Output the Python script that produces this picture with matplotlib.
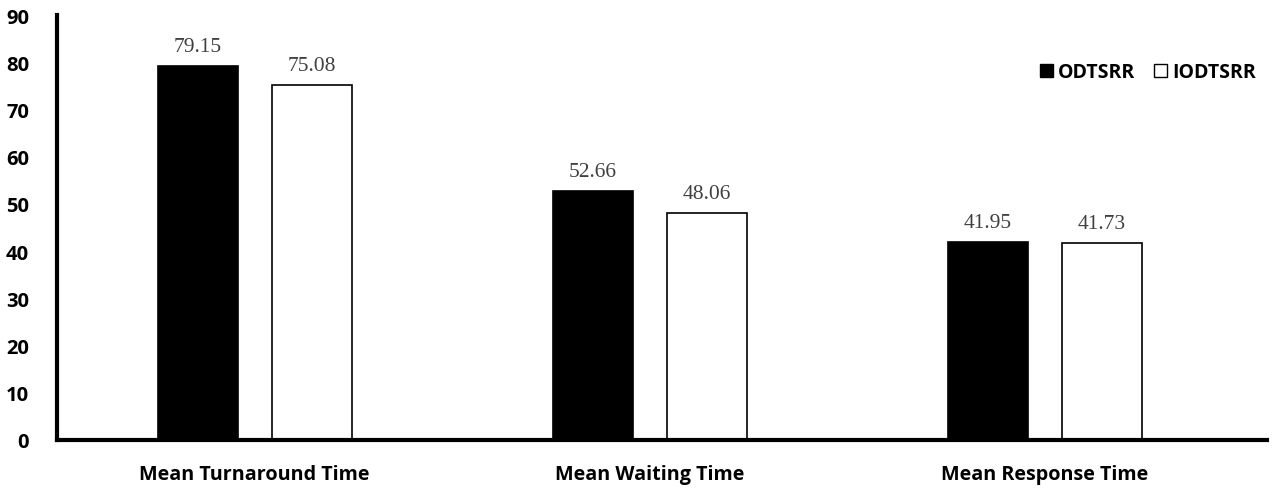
import matplotlib
matplotlib.use("Agg")
import matplotlib.pyplot as plt
import numpy as np
from matplotlib.patches import Patch

categories = ["Mean Turnaround Time", "Mean Waiting Time", "Mean Response Time"]
series_names = ["ODTSRR", "IODTSRR"]
odtsrr = [79.15, 52.66, 41.95]
iodtsrr = [75.08, 48.06, 41.73]
y_ticks = [0, 10, 20, 30, 40, 50, 60, 70, 80, 90]

fig = plt.figure(figsize=(12.77, 4.89), dpi=100)
ax = fig.add_axes([57 / 1277, 48 / 489, (1267 - 57) / 1277, (441 - 16) / 489])

x = np.arange(len(categories))
w = 0.2025
off = 0.1443
b1 = ax.bar(x - off, odtsrr, w, color="black", edgecolor="black", linewidth=1.2,
            label=series_names[0])
b2 = ax.bar(x + off, iodtsrr, w, color="white", edgecolor="black", linewidth=1.2,
            label=series_names[1])

for bars, vals in ((b1, odtsrr), (b2, iodtsrr)):
    for r, v in zip(bars, vals):
        ax.text(r.get_x() + r.get_width() / 2, v + 2.2, f"{v:.2f}",
                ha="center", va="bottom", family="Liberation Serif",
                fontsize=15.5, color="#404040")

ax.set_ylim(0, 90)
ax.set_xlim(-0.5, 2.562)
ax.set_yticks(y_ticks)
ax.set_yticklabels([str(t) for t in y_ticks], fontsize=14.5, fontweight="bold",
                   family="Open Sans")
ax.set_xticks(x)
ax.set_xticklabels(categories, fontsize=14.2, fontweight="bold", family="Open Sans")
ax.tick_params(axis="both", length=0)
ax.tick_params(axis="y", pad=20)
ax.tick_params(axis="x", pad=17)
for s in ("top", "right"):
    ax.spines[s].set_visible(False)
for s in ("left", "bottom"):
    ax.spines[s].set_linewidth(3)

handles = [Patch(facecolor="black", edgecolor="black"),
           Patch(facecolor="white", edgecolor="black")]
ax.legend(handles, series_names, loc="upper right", bbox_to_anchor=(1.005, 0.93),
          ncol=2, frameon=False, handlelength=0.65, handleheight=0.65,
          handletextpad=0.25, columnspacing=1.0,
          prop={"family": "Open Sans", "weight": "bold", "size": 14})

fig.savefig("out.png", dpi=100)
